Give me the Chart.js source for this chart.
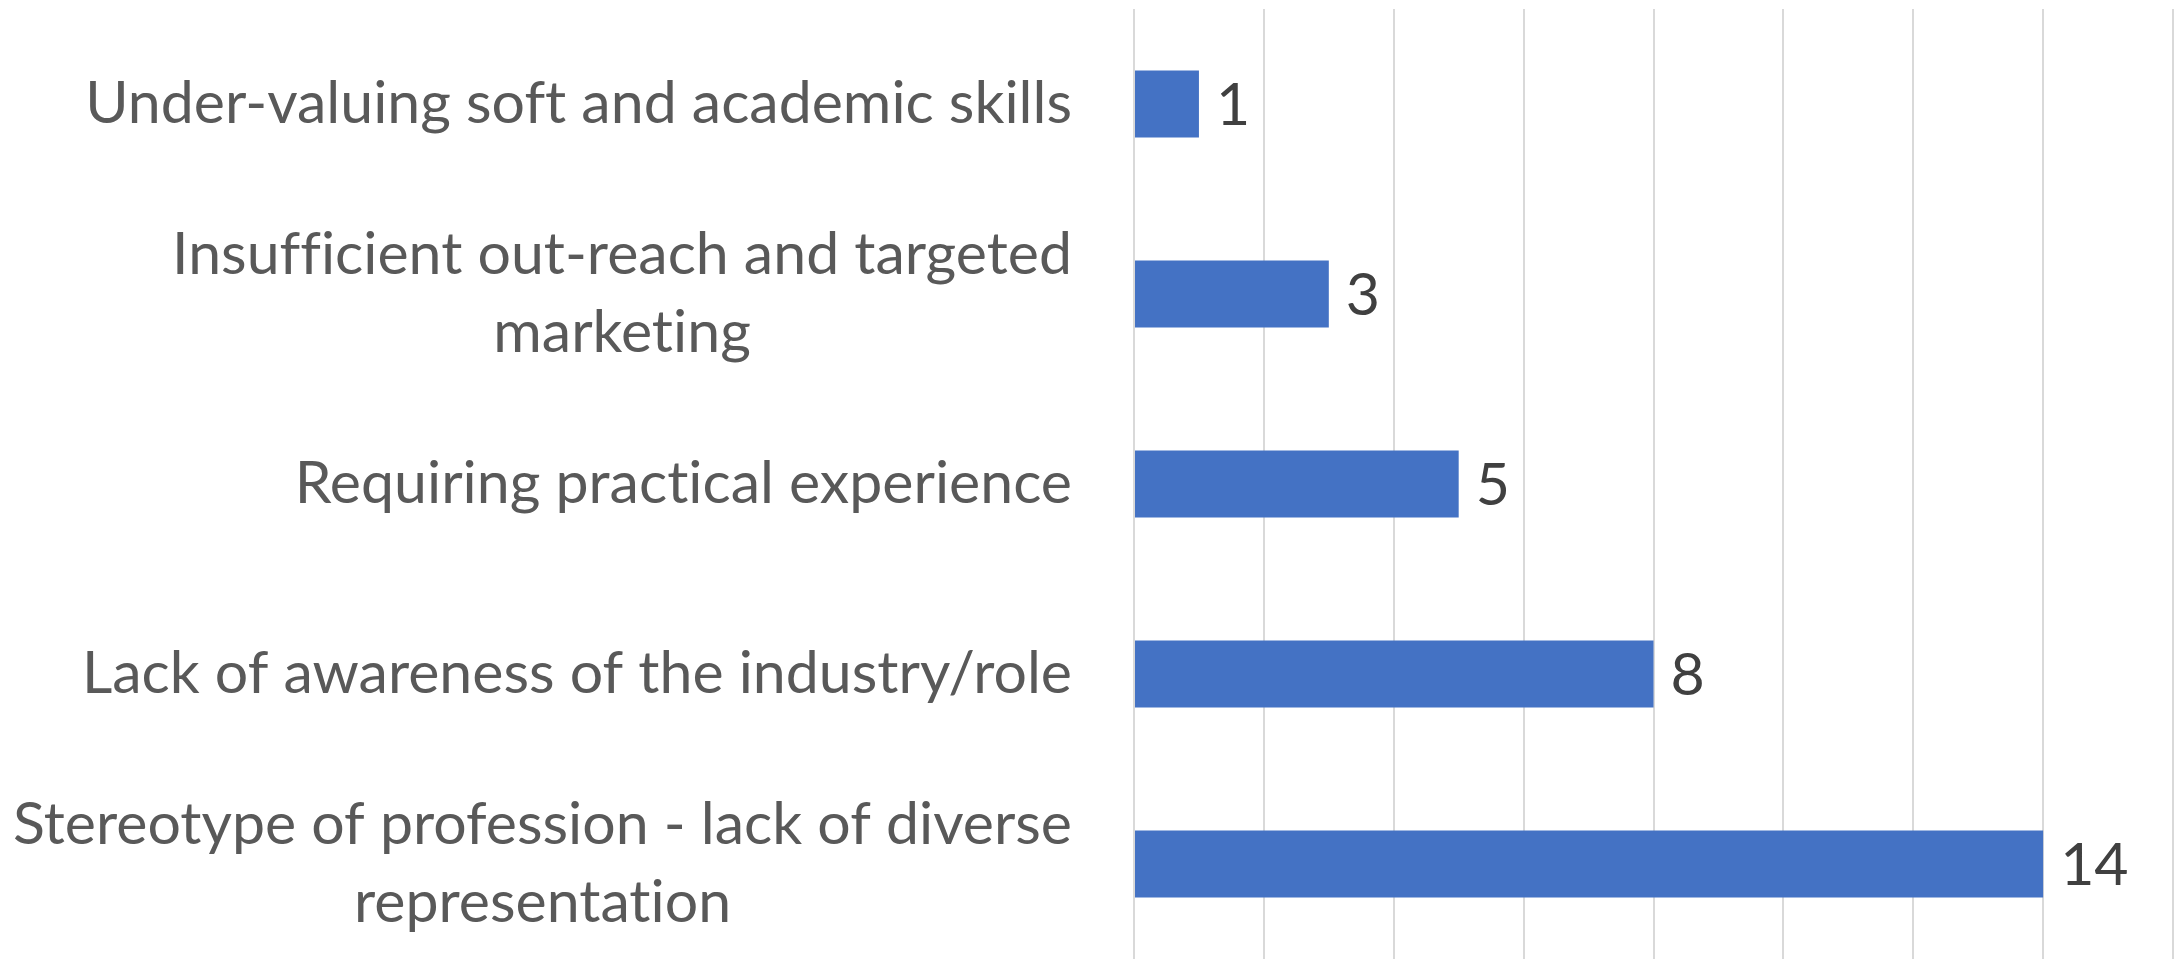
<!DOCTYPE html>
<html>
<head>
<meta charset="utf-8">
<script src="https://cdn.jsdelivr.net/npm/chart.js@4"></script>
<style>
  html, body { margin: 0; padding: 0; background: #fff; }
  canvas { display: block; }
</style>
</head>
<body>
<canvas id="myChart" width="2174" height="959"></canvas>
<script>
const categories = [
  ['Under-valuing soft and academic skills'],
  ['Insufficient out-reach and targeted', 'marketing'],
  ['Requiring practical experience'],
  ['Lack of awareness of the industry/role'],
  ['Stereotype of profession - lack of diverse', 'representation']
]
const counts = [1, 3, 5, 8, 14]
const xTicks = [0, 2, 4, 6, 8, 10, 12, 14, 16]

const FONT = '59px Lato'

// no "ti" ligature, Excel font doesn't have it
function noLig(ctx) {
  ctx.letterSpacing = '0.01px'
  ctx.textRendering = 'optimizeSpeed'
}

// category labels: block right aligned to axis, lines centered in the block
const catLabels = {
  id: 'catLabels',
  afterDraw(chart) {
    const ctx = chart.ctx
    const yScale = chart.scales.y
    const right = chart.chartArea.left - 62
    const lineH = 78
    ctx.save()
    ctx.font = FONT
    noLig(ctx)
    ctx.fillStyle = '#595959'
    ctx.textAlign = 'center'
    ctx.textBaseline = 'middle'
    categories.forEach((lines, i) => {
      const y = yScale.getPixelForTick(i)
      const widest = Math.max(...lines.map(l => ctx.measureText(l).width))
      const cx = right - widest / 2
      lines.forEach((l, j) => {
        ctx.fillText(l, cx, y + (j - (lines.length - 1) / 2) * lineH)
      })
    })
    ctx.restore()
  }
}

// value labels after each bar end
const valueLabels = {
  id: 'valueLabels',
  afterDatasetsDraw(chart) {
    const ctx = chart.ctx
    const meta = chart.getDatasetMeta(0)
    ctx.save()
    ctx.font = FONT
    ctx.fillStyle = '#404040'
    ctx.textAlign = 'left'
    ctx.textBaseline = 'middle'
    meta.data.forEach((bar, i) => {
      ctx.fillText(String(counts[i]), bar.x + 17, bar.y + 2)
    })
    ctx.restore()
  }
}

const ctx = document.getElementById('myChart').getContext('2d')
new Chart(ctx, {
  type: 'bar',
  data: {
    labels: categories,
    datasets: [{
      data: counts,
      backgroundColor: '#4472C4',
      borderWidth: 0,
      barPercentage: 0.353,
      categoryPercentage: 1
    }]
  },
  options: {
    indexAxis: 'y',
    responsive: false,
    animation: false,
    layout: { padding: { top: 9, right: 1, bottom: 0, left: 0 } },
    plugins: {
      legend: { display: false },
      tooltip: { enabled: false }
    },
    scales: {
      x: {
        min: xTicks[0],
        max: xTicks[xTicks.length - 1],
        afterBuildTicks: scale => { scale.ticks = xTicks.map(v => ({ value: v })) },
        ticks: { display: false },
        grid: { color: '#d9d9d9', lineWidth: 2, drawTicks: false },
        border: { display: false },
        afterFit: scale => { scale.height = 0 }
      },
      y: {
        ticks: { display: false },
        grid: { display: false, drawTicks: false },
        border: { display: false },
        afterFit: scale => { scale.width = 1134 }
      }
    }
  },
  plugins: [catLabels, valueLabels]
})
</script>
</body>
</html>
